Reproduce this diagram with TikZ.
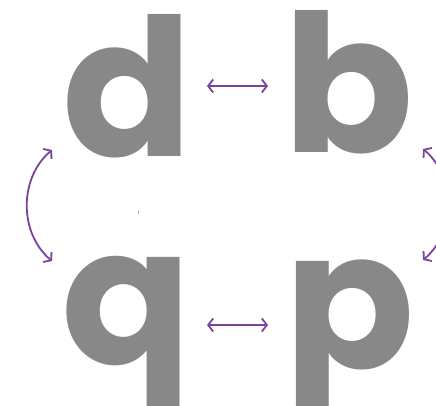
\documentclass[tikz,border=0pt]{standalone}
\usepackage{fontspec}
\setmainfont{Poppins}
\usetikzlibrary{arrows.meta}
\definecolor{lettergrey}{HTML}{888888}
\definecolor{arrowpurple}{HTML}{7A4599}
\definecolor{markcyan}{HTML}{6CC8EA}
\tikzset{
  letter/.style={inner sep=0pt, anchor=base, text=lettergrey, font=\fontsize{192}{192}\selectfont\bfseries},
  swap/.style={draw=arrowpurple, line width=1.8pt, {Straight Barb[length=5pt,width=13pt]}-{Straight Barb[length=5pt,width=13pt]}}
}
\begin{document}
\begin{tikzpicture}[x=1pt,y=1pt]
\useasboundingbox (0,0) rectangle (436,405);
\node[letter] (d) at (128,248) {d};
\node[letter] (b) at (349,252) {b};
\node[letter] (q) at (127,41) {q};
\node[letter] (p) at (350,37) {p};
\coordinate (db1) at (207,319);
\coordinate (db2) at (268,319);
\coordinate (qp1) at (207,80);
\coordinate (qp2) at (268,80);
\coordinate (dq1) at (52,255);
\coordinate (dq2) at (52,144);
\coordinate (bp1) at (423,256);
\coordinate (bp2) at (423,145);
\draw[swap] (db1) -- (db2);
\draw[swap] (qp1) -- (qp2);
\draw[swap] (dq1) to[bend right=50] (dq2);
\draw[swap] (bp1) to[bend left=50] (bp2);
\coordinate (m1) at (138,194);
\coordinate (m2) at (138,191);
\draw[markcyan, line width=1pt] (m1) -- (m2);
\end{tikzpicture}
\end{document}
